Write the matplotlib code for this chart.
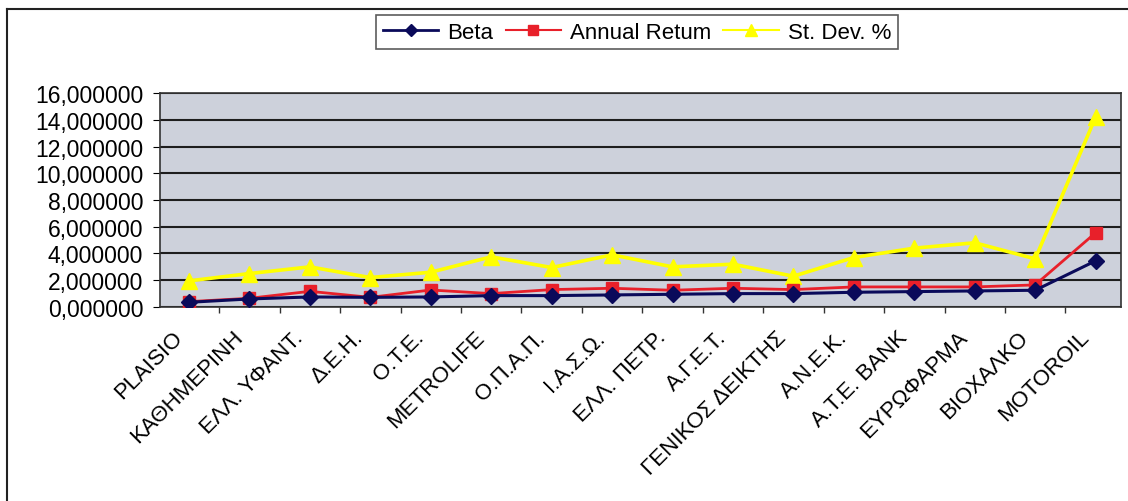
import matplotlib.pyplot as plt
import matplotlib.transforms as mtransforms
from matplotlib.ticker import FuncFormatter
from matplotlib.lines import Line2D

plt.rcParams['font.family'] = ['Liberation Sans', 'DejaVu Sans']

# data
stocks = ['PLAISIO', 'ΚΑΘΗΜΕΡΙΝΗ', 'ΕΛΛ. ΥΦΑΝΤ.', 'Δ.Ε.Η.', 'Ο.Τ.Ε.', 'METROLIFE',
          'Ο.Π.Α.Π.', 'Ι.Α.Σ.Ω.', 'ΕΛΛ. ΠΕΤΡ.', 'Α.Γ.Ε.Τ.', 'ΓΕΝΙΚΟΣ ΔΕΙΚΤΗΣ',
          'Α.Ν.Ε.Κ.', 'Α.Τ.Ε. BANK', 'ΕΥΡΩΦΑΡΜΑ', 'ΒΙΟΧΑΛΚΟ', 'MOTOROIL']
beta = [0.35, 0.6, 0.75, 0.72, 0.75, 0.85, 0.85, 0.9, 0.95, 1.0, 1.0,
        1.1, 1.15, 1.2, 1.25, 3.45]
annual_return = [0.4, 0.65, 1.17, 0.72, 1.27, 1.0, 1.3, 1.4, 1.25, 1.4, 1.3,
                 1.5, 1.5, 1.5, 1.65, 5.55]
st_dev = [1.95, 2.5, 3.0, 2.2, 2.6, 3.75, 2.95, 3.9, 3.0, 3.2, 2.3,
          3.7, 4.4, 4.8, 3.6, 14.2]

fig = plt.figure(figsize=(11.28, 5.02), dpi=100)
ax = fig.add_axes([0.1418, 0.3865, 0.852, 0.4262])
ax.set_facecolor('#cdd1db')

x = range(len(stocks))
ax.plot(x, beta, color='#0a0a5a', marker='D', markersize=8, lw=2.2, zorder=4)
ax.plot(x, annual_return, color='#e8202a', marker='s', markersize=9, lw=2, zorder=3)
ax.plot(x, st_dev, color='#ffff00', marker='^', markersize=12, lw=2.6, zorder=2)

ax.set_ylim(0, 16)
ax.set_yticks(range(0, 17, 2))
ax.yaxis.set_major_formatter(FuncFormatter(lambda v, p: f'{v:.6f}'.replace('.', ',')))
ax.grid(axis='y', color='#1e1e1e', lw=1.5)
ax.set_axisbelow(True)

ax.set_xlim(-0.48, len(stocks) - 0.58)
ax.set_xticks([i + 0.5 for i in range(len(stocks) - 1)])
ax.set_xticklabels([])
ax.set_xticks(list(x), minor=True)
ax.set_xticklabels(stocks, minor=True, rotation=45, ha='right', va='center',
                   rotation_mode='anchor', fontsize=16)
ax.tick_params(axis='x', which='minor', length=0, pad=18)
ax.tick_params(axis='x', which='major', length=4, width=1, color='#333333')
ax.tick_params(axis='y', labelsize=16.5, length=5, pad=7)
shift = mtransforms.ScaledTranslation(-0.1, -0.02, fig.dpi_scale_trans)
for lbl in ax.get_xticklabels(minor=True):
    lbl.set_transform(lbl.get_transform() + shift)
for s in ax.spines.values():
    s.set_color('#333333')
    s.set_linewidth(1.2)

handles = [
    Line2D([], [], color='#0a0a5a', marker='D', markersize=6, lw=2),
    Line2D([], [], color='#e8202a', marker='s', markersize=7, lw=1.5),
    Line2D([], [], color='#ffff00', marker='^', markersize=9, lw=1.5),
]
leg = fig.legend(handles, ['Beta', 'Annual Retum', 'St. Dev. %'], loc='center',
                 bbox_to_anchor=(0.5648, 0.934), ncol=3, fontsize=16, frameon=True,
                 fancybox=False, edgecolor='#333333', handlelength=2.5,
                 columnspacing=0.55, handletextpad=0.4, borderpad=0.3)
leg.get_frame().set_linewidth(1.2)

# outer chart border (left and top edges visible)
fig.add_artist(Line2D([0.0062, 0.0062], [0, 0.98], color='#222222', lw=1.5))
fig.add_artist(Line2D([0.0062, 1.0], [0.98, 0.98], color='#222222', lw=1.5))

fig.savefig('out.png', dpi=100)
